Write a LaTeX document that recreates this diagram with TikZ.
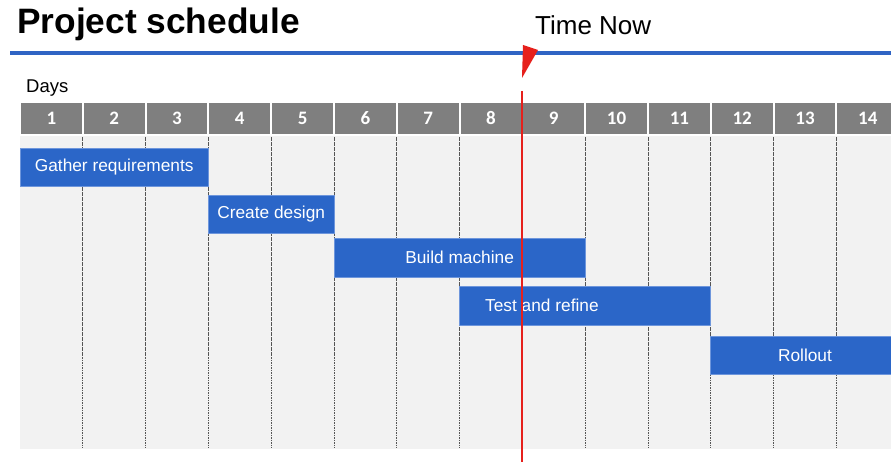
\documentclass[tikz,border=0pt]{standalone}
\usepackage{fontspec}
\setmainfont{Liberation Sans}
\newfontfamily\digitfont{Carlito}
\definecolor{barblue}{RGB}{43,102,200}
\definecolor{baredge}{RGB}{110,150,220}
\definecolor{rulesblue}{RGB}{47,100,196}
\definecolor{hdrgray}{RGB}{127,127,127}
\definecolor{bodygray}{RGB}{242,242,242}
\definecolor{gridgray}{RGB}{85,85,85}
\definecolor{nowred}{RGB}{230,32,28}
\tikzset{
  daycell/.style={fill=hdrgray, text=white, inner sep=0pt,
    minimum width=60.8pt, minimum height=31pt, text height=12.5pt, text depth=0pt,
    font=\digitfont\bfseries\fontsize{19}{22}\selectfont},
  taskbar/.style={fill=barblue, draw=baredge, line width=0.8pt, inner sep=0pt},
  tasklabel/.style={text=white, inner sep=0pt, font=\fontsize{17.3}{20}\selectfont},
  gridline/.style={draw=gridgray, line width=0.9pt, dash pattern=on 1.6pt off 0.9pt},
  nowline/.style={draw=nowred, line width=2.8pt},
}
\begin{document}
\begin{tikzpicture}[x=1pt,y=-1pt]
\useasboundingbox (0,0) rectangle (891,462);
\begin{scope}
\clip (0,0) rectangle (891,462);

% heading and rule
\node[anchor=base west, inner sep=0pt, font=\bfseries\fontsize{35.3}{40}\selectfont] (title) at (17,34) {Project schedule};
\coordinate (ruleL) at (10,53.5);
\coordinate (ruleR) at (891,53.5);
\draw[rulesblue, line width=4pt] (ruleL) -- (ruleR);

\node[anchor=base west, inner sep=0pt, font=\fontsize{26}{30}\selectfont] (nowlabel) at (535,35) {Time Now};
\node[anchor=base west, inner sep=0pt, font=\fontsize{18.5}{22}\selectfont] (days) at (26,93) {Days};

% chart body
\fill[bodygray] (20,136) rectangle (899,449);
\foreach \i in {1,...,13}
  \draw[gridline] ({20+62.8*\i},137) -- ({20+62.8*\i},448);

% day header
\foreach \i in {1,...,14}
  \node[daycell] (d\i) at ({20+62.8*(\i-0.5)},118.5) {\i};

% task bars
\node[taskbar, minimum width=188.4pt, minimum height=38pt] (gather) at (114.2,167) {};
\node[tasklabel] at (gather.center) {Gather requirements};

\node[taskbar, minimum width=125.6pt, minimum height=38pt] (design) at (271.2,214) {};
\node[tasklabel] at (design.center) {Create design};

\node[taskbar, minimum width=251.2pt, minimum height=39pt] (build) at (459.6,257.5) {};
\node[tasklabel] at (build.center) {Build machine};

\node[taskbar, minimum width=251.2pt, minimum height=39pt] (test) at (585.2,305.5) {};
\node[tasklabel, anchor=west] at (485,305.5) {Test and refine};

\node[taskbar, minimum width=188.4pt, minimum height=38pt] (rollout) at (805,355) {};
\node[tasklabel] at (rollout.center) {Rollout};

% time-now marker
\fill[nowred] (523,45) -- (538,50) -- (522,78) -- cycle;
\coordinate (nowtop) at (522,91);
\coordinate (nowbot) at (522,462);
\draw[nowline] (nowtop) -- (nowbot);
\end{scope}
\end{tikzpicture}
\end{document}
